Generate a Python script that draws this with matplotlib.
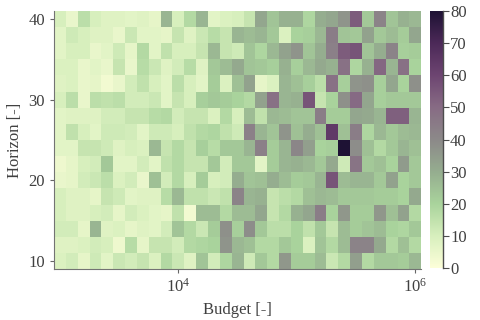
import matplotlib
matplotlib.use('Agg')
import matplotlib.pyplot as plt
import numpy as np
from matplotlib.colors import LinearSegmentedColormap

plt.rcParams['font.family'] = ['Liberation Serif', 'DejaVu Serif']
plt.rcParams['mathtext.fontset'] = 'stix'

# budgets: 31 log-spaced values 1e3..1e6, horizons 10..40 step 2
budget_exp = [3.0 + 0.1 * i for i in range(31)]
horizon = list(range(10, 42, 2))

# values per horizon row (bottom h=10 to top h=40), one per budget column
values = [
    [9, 11, 6, 12, 7, 13, 11, 14, 9, 18, 13, 8, 24, 11, 19, 28, 12, 23, 18, 36, 22, 22, 26, 13, 18, 34, 18, 23, 23, 22, 27],
    [8, 8, 9, 11, 10, 4, 17, 6, 14, 14, 11, 18, 19, 20, 37, 27, 25, 18, 18, 23, 20, 9, 24, 18, 26, 42, 42, 31, 18, 25, 18],
    [11, 11, 6, 28, 8, 9, 6, 8, 7, 11, 24, 18, 13, 22, 38, 21, 39, 23, 16, 16, 20, 15, 23, 14, 26, 22, 24, 26, 20, 19, 23],
    [10, 8, 8, 10, 11, 6, 11, 9, 7, 6, 15, 3, 26, 26, 18, 26, 26, 32, 14, 18, 29, 32, 44, 20, 36, 22, 22, 36, 25, 33, 18],
    [10, 8, 8, 6, 14, 12, 7, 8, 8, 17, 27, 15, 15, 13, 15, 42, 28, 29, 14, 16, 18, 25, 27, 26, 23, 23, 23, 22, 22, 20, 31],
    [5, 6, 11, 13, 16, 9, 11, 5, 25, 11, 18, 10, 22, 10, 11, 30, 24, 25, 30, 26, 22, 23, 28, 56, 26, 28, 28, 23, 33, 20, 23],
    [4, 6, 10, 11, 23, 7, 7, 11, 7, 15, 18, 14, 14, 23, 11, 23, 23, 7, 22, 28, 29, 27, 23, 31, 12, 47, 23, 25, 20, 35, 23],
    [7, 7, 14, 14, 12, 8, 10, 9, 27, 14, 18, 14, 21, 17, 23, 23, 28, 43, 22, 28, 41, 34, 20, 21, 80, 39, 25, 18, 23, 28, 25],
    [7, 15, 10, 7, 12, 12, 11, 7, 12, 12, 10, 15, 18, 19, 15, 12, 43, 28, 24, 37, 25, 30, 25, 64, 25, 44, 19, 27, 23, 26, 27],
    [7, 8, 8, 8, 11, 11, 14, 14, 17, 18, 11, 14, 14, 9, 18, 10, 26, 15, 27, 26, 24, 24, 44, 22, 22, 32, 31, 28, 53, 53, 28],
    [10, 16, 5, 16, 15, 16, 11, 11, 13, 7, 14, 10, 21, 23, 22, 20, 18, 33, 48, 28, 29, 56, 14, 20, 38, 50, 32, 21, 23, 23, 23],
    [8, 9, 5, 6, 3, 5, 11, 15, 10, 7, 16, 10, 7, 22, 9, 25, 33, 6, 9, 28, 25, 21, 16, 48, 21, 37, 38, 21, 32, 20, 38],
    [9, 9, 5, 7, 5, 14, 5, 17, 13, 8, 11, 17, 8, 23, 26, 31, 24, 23, 21, 29, 21, 27, 31, 29, 48, 19, 29, 51, 28, 48, 20],
    [7, 10, 10, 5, 7, 12, 6, 18, 7, 15, 10, 10, 14, 27, 14, 12, 24, 19, 27, 33, 37, 24, 30, 43, 54, 56, 24, 30, 42, 21, 22],
    [7, 12, 10, 8, 8, 5, 13, 7, 7, 6, 14, 8, 13, 17, 14, 28, 26, 28, 23, 9, 20, 21, 27, 44, 24, 23, 33, 23, 26, 22, 32],
    [10, 5, 16, 10, 8, 8, 7, 8, 6, 28, 10, 18, 28, 7, 9, 10, 14, 32, 24, 29, 29, 19, 30, 32, 37, 54, 23, 42, 24, 29, 27],
]

cmap_colors = ['#fcfed9', '#d7efbd', '#a9d39c', '#95ad8f', '#8c8989',
               '#876b84', '#6d4571', '#4c2958', '#1e1234']
cmap = LinearSegmentedColormap.from_list('yg_purple', cmap_colors)

# cell edges (half step in log space / linear space)
be = np.array(budget_exp)
x_edges = 10 ** np.concatenate([be - 0.05, [be[-1] + 0.05]])
h = np.array(horizon)
y_edges = np.concatenate([h - 1, [h[-1] + 1]])

fig = plt.figure(figsize=(4.8, 3.2), dpi=100)
ax = fig.add_axes([0.1125, 0.159, 0.765, 0.807])
cax = fig.add_axes([0.896, 0.162, 0.027, 0.804])

mesh = ax.pcolormesh(x_edges, y_edges, np.array(values), cmap=cmap, vmin=0, vmax=80)
ax.set_xscale('log')
ax.set_xlim(x_edges[0], x_edges[-1])
ax.set_ylim(y_edges[0], y_edges[-1])
ax.set_xticks([1e4, 1e6])
ax.minorticks_off()
ax.set_yticks([10, 20, 30, 40])
ax.set_xlabel('Budget [-]', fontsize=12, color='0.25')
ax.set_ylabel('Horizon [-]', fontsize=12, color='0.25')
ax.tick_params(labelsize=12, length=3, color='0.4', labelcolor='0.25')
for s in ['top', 'right']:
    ax.spines[s].set_visible(False)
for s in ['left', 'bottom']:
    ax.spines[s].set_color('0.45')

cb = fig.colorbar(mesh, cax=cax, ticks=range(0, 81, 10))
cb.outline.set_visible(False)
cax.plot([1, 1], [0, 1], transform=cax.transAxes, color='0.3', lw=1, clip_on=False)
cax.tick_params(labelsize=12, length=4, color='0.3', labelcolor='0.25', pad=1)

fig.savefig('out.png', dpi=100)
